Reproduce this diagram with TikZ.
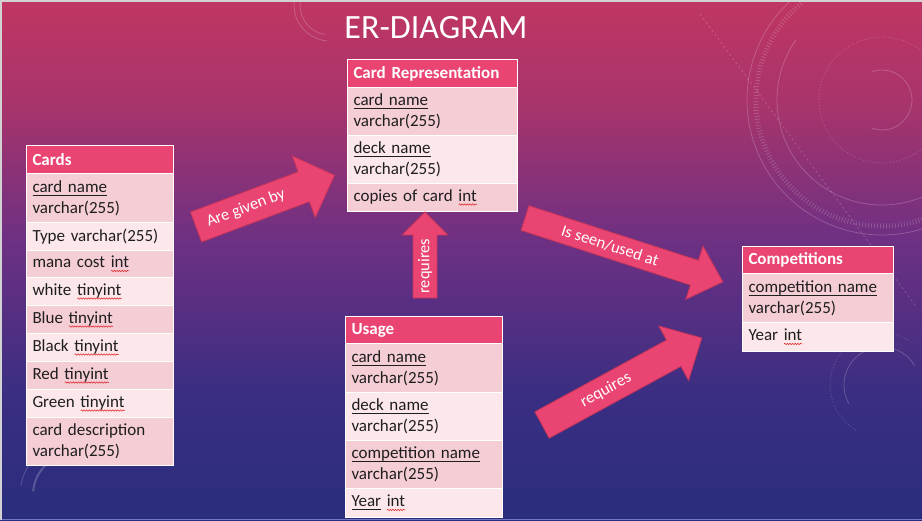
\documentclass[tikz,border=0pt]{standalone}
\usepackage{fontspec}
\setmainfont{Carlito}
\usetikzlibrary{calc,decorations.pathmorphing}
\definecolor{hdr}{HTML}{E94472}
\definecolor{rowA}{HTML}{F5CDD5}
\definecolor{rowB}{HTML}{FCE7EA}
\definecolor{txt}{HTML}{1E1E1E}
\definecolor{arrowfill}{HTML}{E94472}
\definecolor{arrowedge}{HTML}{C2345A}
\definecolor{wavered}{HTML}{E02020}
\definecolor{bgT}{HTML}{C03662}
\definecolor{bgT2}{HTML}{A8346C}
\definecolor{bgM}{HTML}{6E3083}
\definecolor{bgB2}{HTML}{3A2E82}
\definecolor{bgB}{HTML}{2A2D7D}
\pgfdeclareverticalshading{bgshade}{100bp}{color(0bp)=(bgB); color(25bp)=(bgB); color(37bp)=(bgB2); color(52bp)=(bgM); color(65bp)=(bgT2); color(75bp)=(bgT); color(100bp)=(bgT)}
\newlength\mywd
\newcommand\keyu[1]{\settowidth\mywd{#1}\rlap{\rule[-3.6pt]{\mywd}{1.1pt}}#1}
\newcommand\sq[1]{\settowidth\mywd{#1}\rlap{\tikz[baseline=0pt,x=1pt,y=1pt]\draw[wavered,line width=0.5pt,decorate,decoration={snake,amplitude=0.7pt,segment length=2.6pt}] (0,-3.2) -- (\mywd,-3.2);}#1}
\newcommand\blockarrow[8]{%
  \begin{scope}[shift={(#2,#3)},rotate=#4]
    \coordinate (#1-tail) at (0,0);
    \coordinate (#1-tip) at (#5,0);
    \filldraw[barrow] (0,-#6/2) -- ({#5-#8},-#6/2) -- ({#5-#8},-#7/2) -- (#1-tip)
      -- ({#5-#8},#7/2) -- ({#5-#8},#6/2) -- (0,#6/2) -- cycle;
  \end{scope}}
\tikzset{
  tbl/.style={anchor=north west, draw=white, line width=1pt, inner xsep=6pt, inner ysep=0pt,
    align=left, text=txt, font=\fontsize{17}{21}\selectfont},
  hdr/.style={tbl, fill=hdr, text=white, font=\bfseries\fontsize{17}{21}\selectfont},
  ra/.style={tbl, fill=rowA},
  rb/.style={tbl, fill=rowB},
  barrow/.style={fill=arrowfill, draw=arrowedge, line width=0.8pt, line join=miter},
  atext/.style={text=white, font=\fontsize{16.5}{20}\selectfont, inner sep=0pt},
  deco/.style={draw=white, opacity=0.2, line width=0.8pt},
}
\begin{document}
\begin{tikzpicture}[x=1pt,y=-1pt]
\useasboundingbox (0,0) rectangle (922,520);
\shade[shading=bgshade] (0,0) rectangle (922,520);
% decorative background circles
\begin{scope}[deco]
  \draw (882,100) ++(250:30) arc[start angle=250, end angle=470, radius=30];
  \draw[dash pattern=on 1pt off 2pt] (882,100) circle (63);
  \draw (882,100) ++(215:105) arc[start angle=215, end angle=55, radius=105];
  \draw[line width=5pt, dash pattern=on 0.7pt off 2.3pt] (882,100) ++(230:126) arc[start angle=230, end angle=25, radius=126];
  \draw (882,100) ++(235:135) arc[start angle=235, end angle=40, radius=135];
  \draw[dash pattern=on 2pt off 3pt] (700,14) -- (915,305);
  \draw (330,5) ++(100:30) arc[start angle=100, end angle=200, radius=30];
  \draw (330,5) ++(95:36) arc[start angle=95, end angle=205, radius=36];
  \draw (75,495) ++(190:55) arc[start angle=190, end angle=290, radius=55];
  \draw[line width=2pt] (75,495) ++(185:42) arc[start angle=185, end angle=250, radius=42];
  \draw (882,385) ++(150:38) arc[start angle=150, end angle=330, radius=38];
  \draw[dash pattern=on 1pt off 2pt] (882,385) ++(120:52) arc[start angle=120, end angle=300, radius=52];
\end{scope}
% frame
\draw[gray!35, line width=1.5pt] (0.75,520) -- (0.75,0.75) -- (922,0.75);
\draw[white!75!blue, opacity=0.5, line width=1.5pt] (0,519.25) -- (922,519.25);
% title
\node[text=white, font=\fontsize{34}{40}\selectfont, anchor=base, inner sep=0pt] (title) at (436,38) {ER-DIAGRAM};
% Cards table
\node[hdr, text width=135pt, minimum height=28pt] (cards) at (26,145) {Cards};
\node[ra, text width=135pt, minimum height=49pt] (cards-1) at (26,173) {\keyu{card name}\\varchar(255)};
\node[rb, text width=135pt, minimum height=28pt] (cards-2) at (26,222) {Type varchar(255)};
\node[ra, text width=135pt, minimum height=27pt] (cards-3) at (26,250) {mana cost \sq{int}};
\node[rb, text width=135pt, minimum height=28pt] (cards-4) at (26,277) {white \sq{tinyint}};
\node[ra, text width=135pt, minimum height=28pt] (cards-5) at (26,305) {Blue \sq{tinyint}};
\node[rb, text width=135pt, minimum height=28pt] (cards-6) at (26,333) {Black \sq{tinyint}};
\node[ra, text width=135pt, minimum height=28pt] (cards-7) at (26,361) {Red \sq{tinyint}};
\node[rb, text width=135pt, minimum height=28pt] (cards-8) at (26,389) {Green \sq{tinyint}};
\node[ra, text width=135pt, minimum height=48pt] (cards-9) at (26,417) {card description\\varchar(255)};
% Card Representation table
\node[hdr, text width=158pt, minimum height=28pt] (rep) at (347,59) {Card Representation};
\node[ra, text width=158pt, minimum height=48pt] (rep-1) at (347,87) {\keyu{card name}\\varchar(255)};
\node[rb, text width=158pt, minimum height=48pt] (rep-2) at (347,135) {\keyu{deck name}\\varchar(255)};
\node[ra, text width=158pt, minimum height=28pt] (rep-3) at (347,183) {copies of card \sq{int}};
% Usage table
\node[hdr, text width=145pt, minimum height=27pt] (use) at (345,316) {Usage};
\node[ra, text width=145pt, minimum height=49pt] (use-1) at (345,343) {\keyu{card name}\\varchar(255)};
\node[rb, text width=145pt, minimum height=48pt] (use-2) at (345,392) {\keyu{deck name}\\varchar(255)};
\node[ra, text width=145pt, minimum height=48pt] (use-3) at (345,440) {\keyu{competition name}\\varchar(255)};
\node[rb, text width=145pt, minimum height=29pt] (use-4) at (345,488) {\keyu{Year} \sq{int}};
% Competitions table
\node[hdr, text width=139pt, minimum height=27pt] (comp) at (742,246) {Competitions};
\node[ra, text width=139pt, minimum height=49pt] (comp-1) at (742,273) {\keyu{competition name}\\varchar(255)};
\node[rb, text width=139pt, minimum height=29pt] (comp-2) at (742,322) {Year \sq{int}};
% block arrows
\blockarrow{given}{196}{227}{20.5}{148}{32}{66}{33}
\node[atext, rotate=20.5] (given-label) at ($(given-tail)!0.36!(given-tip)$) {Are given by};
\blockarrow{seen}{525}{218}{-17.9}{208}{26}{56}{30}
\node[atext, rotate=-17.9] (seen-label) at ($(seen-tail)!0.43!(seen-tip)$) {Is seen/used at};
\blockarrow{req}{542}{425}{28.6}{182}{30}{62}{32}
\node[atext, rotate=28.6] (req-label) at ($(req-tail)!0.40!(req-tip)$) {requires};
\blockarrow{up}{425}{298}{90}{86}{24}{46}{23}
\node[atext, rotate=90] (up-label) at ($(up-tail)!0.37!(up-tip)$) {requires};
\end{tikzpicture}
\end{document}
